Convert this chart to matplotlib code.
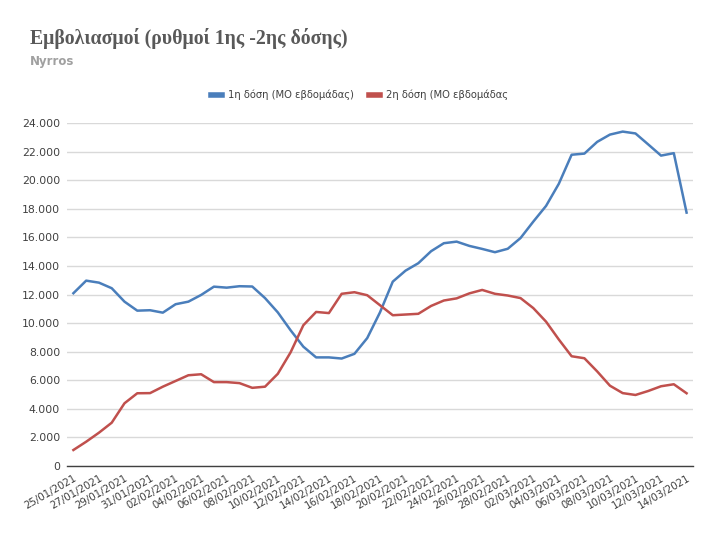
import numpy as np
import matplotlib
matplotlib.use("Agg")
import matplotlib.pyplot as plt
from matplotlib.ticker import FuncFormatter
import datetime as dt

# daily values 25/01/2021 - 14/03/2021 (weekly moving average)
start_day = dt.date(2021, 1, 25)
dose1 = [12090, 12970, 12830, 12440, 11500, 10870, 10900, 10730, 11320, 11500,
         11970, 12550, 12480, 12580, 12560, 11750, 10750, 9500, 8350, 7600,
         7600, 7520, 7850, 8950, 10750, 12900, 13670, 14190, 15030, 15590,
         15700, 15400, 15190, 14960, 15200, 15950, 17100, 18200, 19750, 21780,
         21860, 22680, 23190, 23400, 23270, 22500, 21720, 21890, 17730]
dose2 = [1120, 1700, 2330, 3030, 4390, 5090, 5100, 5550, 5950, 6350,
         6420, 5870, 5870, 5800, 5470, 5550, 6450, 7950, 9850, 10780,
         10700, 12050, 12160, 11950, 11250, 10550, 10600, 10650, 11200, 11580,
         11730, 12080, 12320, 12050, 11930, 11750, 11050, 10100, 8850, 7680,
         7540, 6620, 5620, 5100, 4970, 5250, 5580, 5720, 5090]

dates = [(start_day + dt.timedelta(days=k)).strftime("%d/%m/%Y") for k in range(len(dose1))]
label1 = "1η δόση (ΜΟ εβδομάδας)"
label2 = "2η δόση (ΜΟ εβδομάδας"

blue = "#4a7ebb"
red = "#c0504d"
text_col = "#404040"

fig = plt.figure(figsize=(7.19, 5.33), dpi=100)
ax = fig.add_axes([0.0932, 0.1257, 0.8706, 0.6435])

x = np.arange(len(dates))
ax.plot(x, dose1, color=blue, lw=1.8, solid_joinstyle="round", label=label1)
ax.plot(x, dose2, color=red, lw=1.8, solid_joinstyle="round", label=label2)

ax.set_xlim(-0.5, len(dates) - 0.5)
ax.set_ylim(0, 24000)
ax.set_yticks(np.arange(0, 24001, 2000))
ax.yaxis.set_major_formatter(FuncFormatter(lambda v, p: f"{int(v):,}".replace(",", ".")))
ax.grid(axis="y", color="#d9d9d9", lw=1)
ax.set_axisbelow(True)

ax.set_xticks(x[::2])
ax.set_xticklabels(dates[::2], rotation=30, ha="right", va="top", rotation_mode="anchor")
ax.tick_params(axis="x", length=0, pad=5, labelsize=7.4, labelcolor=text_col)
ax.tick_params(axis="y", length=0, pad=5, labelsize=7.8, labelcolor=text_col)

for s in ["left", "right", "top"]:
    ax.spines[s].set_visible(False)
ax.spines["bottom"].set_color("#404040")
ax.spines["bottom"].set_linewidth(1)

fig.text(0.042, 0.928, "Εμβολιασμοί (ρυθμοί 1ης -2ης δόσης)", family="Liberation Serif",
         weight="bold", size=14.2, color="#595959", va="center")
fig.text(0.042, 0.884, "Nyrros", weight="bold", size=8.5, color="#a0a0a0", va="center")

leg = fig.legend(loc="center", bbox_to_anchor=(0.50, 0.822), ncol=2, frameon=False,
                 fontsize=7.2, handlelength=1.1, handletextpad=0.6, columnspacing=1.6)
for h in leg.get_lines():
    h.set_linewidth(4)
for t in leg.get_texts():
    t.set_color(text_col)

fig.savefig("out.png", dpi=100, facecolor="white")
